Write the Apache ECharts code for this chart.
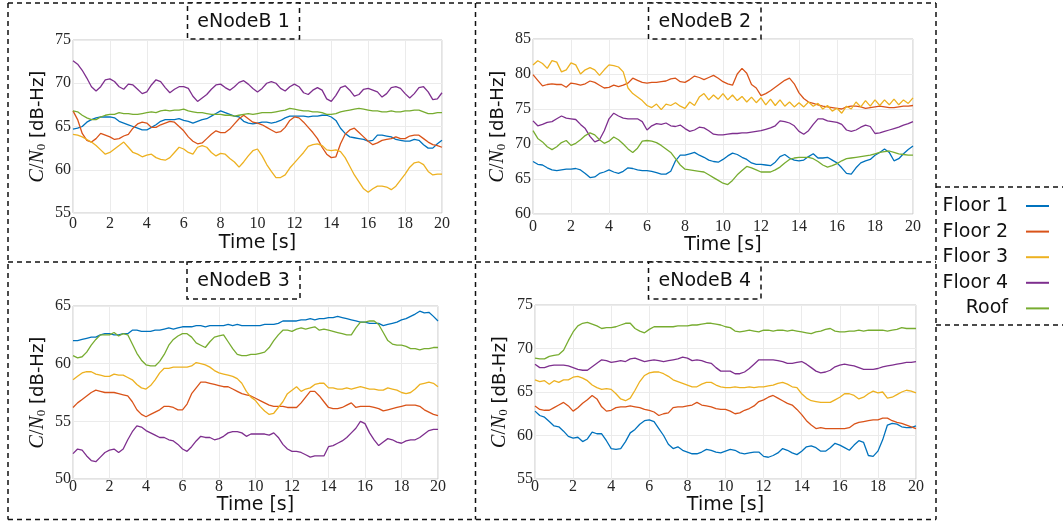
<!DOCTYPE html>
<html><head><meta charset="utf-8">
<script src="https://cdn.jsdelivr.net/npm/echarts@6/dist/echarts.min.js"></script>
<style>html,body{margin:0;padding:0;background:#fff}#c{width:1063px;height:522px}</style>
</head><body><div id="c"></div><script>
// ---------- data ----------
const TIME = [0,0.25,0.5,0.75,1,1.25,1.5,1.75,2,2.25,2.5,2.75,3,3.25,3.5,3.75,4,4.25,4.5,4.75,5,5.25,5.5,5.75,6,6.25,6.5,6.75,7,7.25,7.5,7.75,8,8.25,8.5,8.75,9,9.25,9.5,9.75,10,10.25,10.5,10.75,11,11.25,11.5,11.75,12,12.25,12.5,12.75,13,13.25,13.5,13.75,14,14.25,14.5,14.75,15,15.25,15.5,15.75,16,16.25,16.5,16.75,17,17.25,17.5,17.75,18,18.25,18.5,18.75,19,19.25,19.5,19.75,20];
const SERIES_NAMES = ['Floor 1','Floor 2','Floor 3','Floor 4','Roof'];
const PANEL_TITLES = ['eNodeB 1','eNodeB 2','eNodeB 3','eNodeB 4'];
const X_TICKS = [0,2,4,6,8,10,12,14,16,18,20];
const Y_RANGES = [[55,75],[60,85],[50,65],[55,75]];

// eNodeB 1
const ENB1_FLOOR1 = [64.7,64.8,65.0,65.5, 65.8,66.0,66.1,66.1, 66.1,66.0,65.6,65.4, 65.2,65.0,64.8,64.6, 64.6,64.9,65.2,65.6, 65.8,65.8,65.8,65.9, 65.7,65.6,65.4,65.6, 65.8,65.9,66.2,66.5, 66.8,66.6,66.4,66.2, 66.1,65.6,65.4,65.3, 65.4,65.5,65.5,65.4, 65.5,65.7,66.0,66.2, 66.2,66.2,66.2,66.1, 66.2,66.2,66.3,66.3, 66.1,65.7,64.8,64.2, 63.8,63.7,63.6,63.5, 63.3,63.4,64.0,64.0, 63.9,63.8,63.5,63.4, 63.3,63.3,63.5,63.4, 62.9,62.5,62.5,63.0, 63.4];
const ENB1_FLOOR2 = [66.8,65.8,64.2,63.4, 63.2,63.6,64.2,64.0, 63.8,63.5,63.6,63.9, 64.1,64.8,65.3,65.5, 65.4,64.9,64.9,65.2, 65.4,65.6,65.5,65.0, 64.5,63.8,63.3,63.0, 63.1,63.6,64.1,64.5, 64.3,64.3,64.7,65.3, 65.9,66.3,65.9,65.5, 65.4,65.2,64.9,64.6, 64.3,64.4,64.9,65.7, 66.1,66.0,65.5,64.9, 64.3,63.6,62.6,61.8, 61.4,61.5,63.0,64.1, 64.6,64.8,64.3,63.8, 63.3,62.9,63.1,63.4, 63.5,63.6,63.8,63.6, 63.6,63.9,64.0,64.0, 63.6,63.2,62.9,62.8, 62.6];
const ENB1_FLOOR3 = [64.1,64.0,63.8,63.5, 63.2,62.8,62.3,61.8, 62.0,62.4,62.8,63.2, 62.6,62.0,61.8,61.5, 61.7,61.8,61.4,61.2, 61.1,61.4,62.0,62.6, 62.4,62.0,61.8,62.6, 62.8,62.6,62.0,61.6, 61.9,61.8,61.3,60.9, 60.3,60.9,61.6,62.2, 62.4,61.6,60.6,59.8, 59.1,59.1,59.4,60.2, 60.8,61.4,62.0,62.7, 62.9,63.0,62.8,62.3, 62.2,62.3,62.1,61.4, 60.4,59.4,58.6,57.8, 57.4,57.8,58.1,58.1, 58.0,57.7,58.1,58.8, 59.5,60.3,60.8,60.9, 60.6,59.8,59.4,59.5, 59.5];
const ENB1_FLOOR4 = [72.6,72.2,71.5,70.6, 69.6,69.1,69.6,70.4, 70.5,70.2,69.6,69.3, 69.9,69.8,69.3,68.8, 69.0,69.8,70.4,70.2, 69.5,68.9,69.3,69.6, 69.6,69.4,68.5,67.9, 68.3,68.7,69.3,69.8, 69.9,69.5,69.2,69.6, 70.1,70.3,69.9,69.4, 69.0,69.4,70.0,70.2, 70.0,69.4,69.1,69.6, 69.9,69.6,68.9,68.7, 69.2,69.5,69.2,68.2, 67.9,68.6,69.5,69.7, 69.2,68.5,68.7,69.3, 69.4,69.2,69.0,68.4, 68.8,69.5,69.6,69.4, 68.8,68.3,68.8,69.5, 69.6,69.0,68.1,68.2, 68.9];
const ENB1_ROOF = [66.8,66.7,66.3,66.0, 65.8,65.8,66.1,66.3, 66.4,66.4,66.6,66.5, 66.5,66.4,66.4,66.5, 66.6,66.7,66.6,66.8, 66.9,66.8,66.9,66.9, 67.0,66.8,66.7,66.6, 66.6,66.5,66.4,66.4, 66.4,66.3,66.3,66.2, 66.3,66.4,66.5,66.4, 66.5,66.6,66.6,66.6, 66.7,66.8,66.9,67.1, 67.0,66.9,66.8,66.8, 66.7,66.7,66.6,66.4, 66.4,66.5,66.7,66.8, 66.9,67.0,67.1,67.0, 66.9,66.8,66.8,66.7, 66.7,66.8,66.7,66.7, 66.8,66.8,66.9,66.9, 66.7,66.5,66.5,66.6, 66.6];

// eNodeB 2
const ENB2_FLOOR1 = [67.5,67.1,67.0,66.6, 66.3,66.2,66.3,66.4, 66.4,66.5,66.3,65.8, 65.2,65.3,65.8,66.0, 66.3,66.0,65.8,66.1, 66.6,66.5,66.3,66.2, 66.2,66.1,65.9,65.7, 65.7,66.1,67.6,68.4, 68.4,68.6,68.8,68.4, 68.1,67.7,67.5,67.4, 67.8,68.3,68.7,68.5, 68.1,67.8,67.3,67.1, 67.1,67.0,66.9,67.4, 68.2,68.5,68.0,67.7, 67.6,67.7,68.2,68.6, 68.0,68.0,68.1,67.7, 67.3,66.6,65.8,65.7, 66.6,67.3,67.6,67.8, 68.4,68.8,69.3,68.8, 67.6,67.9,68.6,69.2, 69.7];
const ENB2_FLOOR2 = [79.9,79.1,78.3,78.5, 78.6,78.5,78.5,78.1, 78.7,78.6,78.4,78.6, 79.0,78.8,78.4,78.0, 78.1,78.4,78.2,78.4, 78.7,79.4,79.1,78.8, 78.7,78.8,78.8,78.9, 79.0,79.3,79.4,78.9, 78.8,79.2,79.7,79.5, 79.2,79.5,79.8,79.4, 78.9,78.6,78.4,80.0, 80.8,80.1,78.5,78.0, 76.9,77.2,77.6,78.1, 78.6,79.1,79.4,78.6, 77.3,76.5,76.0,75.8, 75.6,75.4,75.3,75.2, 75.1,75.0,75.3,75.4, 75.4,75.3,75.1,75.2, 75.3,75.4,75.3,75.2, 75.2,75.3,75.4,75.4, 75.5];
const ENB2_FLOOR3 = [81.3,81.9,81.5,80.8, 81.9,81.7,80.3,80.6, 81.6,81.3,80.0,80.6, 80.9,80.6,79.8,80.6, 81.3,81.2,81.0,80.3, 78.0,77.2,76.7,76.2, 75.5,75.2,75.7,74.9, 75.7,75.5,75.9,75.4, 75.1,76.0,75.5,76.7, 77.2,76.3,77.0,76.4, 77.2,76.3,77.0,76.2, 76.8,76.0,76.7,75.9, 76.6,75.6,76.4,75.5, 76.3,75.4,76.0,75.3, 75.9,75.3,76.0,75.4, 75.8,75.0,75.5,74.7, 75.1,74.4,75.4,75.0, 76.0,75.3,76.2,75.4, 76.3,75.5,76.3,75.6, 76.4,75.6,76.3,75.8, 76.6];
const ENB2_FLOOR4 = [73.3,72.6,72.8,73.1, 73.2,73.6,74.0,73.7, 73.6,73.5,72.8,72.2, 71.1,70.3,70.6,71.9, 73.6,74.4,74.0,73.7, 73.6,73.6,73.6,73.2, 72.0,72.6,72.9,72.8, 73.0,72.6,72.5,72.7, 72.2,71.8,72.0,72.4, 72.3,71.9,71.4,71.3, 71.3,71.4,71.5,71.5, 71.6,71.6,71.7,71.8, 71.9,72.1,72.3,72.6, 73.3,73.2,73.0,72.6, 71.8,71.4,71.9,72.8, 73.6,73.6,73.3,73.2, 73.1,72.8,72.0,71.8, 72.0,72.4,72.7,72.5, 71.5,71.6,71.8,72.0, 72.2,72.4,72.7,72.9, 73.2];
const ENB2_ROOF = [71.9,70.8,70.3,69.6, 69.2,69.6,70.2,70.5, 69.8,70.1,70.6,71.2, 71.6,71.3,70.6,70.1, 70.4,71.0,70.6,70.0, 69.3,68.8,69.4,70.4, 70.5,70.4,70.2,69.8, 69.3,68.8,67.9,67.0, 66.4,66.3,66.2,66.1, 66.0,65.6,65.2,64.8, 64.4,64.2,64.8,65.6, 66.2,66.8,66.6,66.3, 66.0,66.0,66.0,66.3, 66.7,67.3,67.8,68.0, 68.1,68.1,68.1,67.9, 67.5,67.0,66.7,66.9, 67.2,67.6,67.9,68.0, 68.1,68.2,68.3,68.4, 68.6,68.8,68.9,69.0, 68.8,68.6,68.5,68.4, 68.4];

// eNodeB 3
const ENB3_FLOOR1 = [62.0,62.0,62.1,62.2, 62.3,62.3,62.5,62.6, 62.6,62.5,62.5,62.6, 62.6,62.9,62.9,62.8, 62.8,62.8,62.9,62.9, 63.0,63.1,63.0,63.1, 63.2,63.2,63.2,63.3, 63.3,63.2,63.3,63.3, 63.3,63.3,63.4,63.3, 63.4,63.3,63.3,63.3, 63.3,63.3,63.4,63.4, 63.4,63.5,63.7,63.7, 63.7,63.7,63.8,63.8, 63.9,63.8,63.9,63.9, 64.0,64.0,64.1,64.0, 63.9,63.8,63.7,63.6, 63.6,63.5,63.5,63.5, 63.3,63.4,63.5,63.6, 63.8,63.9,64.1,64.3, 64.55,64.4,64.45,64.1, 63.7];
const ENB3_FLOOR2 = [56.2,56.6,56.9,57.2, 57.5,57.7,57.6,57.5, 57.5,57.5,57.4,57.3, 57.2,56.7,56.0,55.6, 55.4,55.6,55.8,56.0, 56.3,56.3,56.2,56.0, 56.0,56.5,57.4,57.9, 58.4,58.4,58.3,58.2, 58.1,58.0,58.0,57.8, 57.6,57.4,57.3,57.2, 57.0,56.8,56.6,56.4, 56.3,56.3,56.3,56.2, 56.2,56.2,56.6,57.1, 57.6,57.6,57.2,56.7, 56.2,56.1,56.1,56.2, 56.4,56.6,56.2,56.3, 56.3,56.3,56.2,56.1, 55.9,56.0,56.1,56.2, 56.3,56.4,56.4,56.4, 56.3,56.0,55.8,55.6, 55.5];
const ENB3_FLOOR3 = [58.6,58.9,59.2,59.3, 59.3,59.1,59.0,58.9, 58.9,59.1,59.0,59.0, 58.8,58.6,58.2,57.9, 57.8,58.1,58.6,59.2, 59.6,59.6,59.7,59.7, 59.7,59.7,59.8,60.1, 60.0,59.9,59.7,59.4, 59.2,59.1,59.0,58.9, 58.7,58.3,57.6,57.1, 56.8,56.3,55.9,55.6, 55.7,56.2,56.7,57.4, 57.7,58.0,57.6,57.8, 57.9,58.2,58.3,58.3, 57.9,57.9,57.8,57.8, 57.9,57.8,57.9,58.0, 57.9,57.8,57.8,57.7, 57.7,57.9,57.8,57.7, 57.5,57.4,57.5,57.8, 58.2,58.3,58.4,58.3, 58.0];
const ENB3_FLOOR4 = [52.2,52.6,52.5,52.0, 51.6,51.5,51.9,52.3, 52.5,52.6,52.3,52.6, 53.4,54.1,54.6,54.5, 54.2,54.0,53.8,53.6, 53.6,53.4,53.3,53.0, 52.6,52.4,52.8,53.3, 53.7,53.6,53.6,53.4, 53.5,53.7,54.0,54.1, 54.1,54.0,53.7,53.9, 53.9,53.9,53.9,53.8, 54.0,53.6,53.0,52.6, 52.4,52.4,52.3,52.1, 51.9,52.0,52.0,52.0, 52.8,52.9,53.1,53.3, 53.6,54.0,54.4,55.0, 54.8,54.0,53.4,52.9, 53.2,53.5,53.4,53.2, 53.1,53.3,53.4,53.4, 53.6,53.9,54.2,54.3, 54.3];
const ENB3_ROOF = [60.7,60.5,60.6,61.0, 61.6,62.1,62.5,62.5, 62.5,62.7,62.4,62.6, 62.5,61.7,60.9,60.3, 59.9,59.8,59.8,60.2, 60.8,61.6,62.1,62.4, 62.6,62.6,62.3,61.8, 61.6,61.4,61.9,62.3, 62.4,62.5,61.9,61.3, 60.8,60.7,60.7,60.8, 60.8,60.9,61.0,61.4, 62.0,62.5,62.9,62.9, 62.8,63.0,63.1,63.0, 63.1,63.2,62.9,63.0, 62.9,62.8,62.7,62.6, 62.5,62.5,63.1,63.6, 63.6,63.7,63.7,63.4, 62.7,62.0,61.7,61.6, 61.6,61.5,61.3,61.3, 61.2,61.3,61.3,61.4, 61.4];

// eNodeB 4
const ENB4_FLOOR1 = [62.8,62.3,62.1,61.6, 61.1,61.0,60.5,59.9, 59.7,59.8,59.3,59.6, 60.4,60.2,60.2,59.4, 58.5,58.4,58.5,59.3, 60.3,60.7,61.3,61.7, 61.8,61.6,60.8,60.0, 59.0,58.5,58.7,58.3, 58.1,57.9,57.9,58.1, 58.4,58.3,58.1,58.0, 58.2,58.4,58.3,58.0, 57.9,58.0,58.1,58.1, 57.6,57.5,57.7,58.0, 58.5,58.3,58.0,57.8, 58.2,58.7,58.8,58.6, 58.2,58.2,58.6,59.1, 58.9,58.6,58.3,58.9, 59.4,59.2,57.7,57.6, 58.2,59.5,61.2,61.4, 61.3,61.0,60.9,60.9, 61.1];
const ENB4_FLOOR2 = [63.4,63.0,62.9,62.9, 63.2,63.5,63.8,63.4, 62.8,63.2,63.7,64.1, 64.6,64.2,63.3,62.8, 62.9,63.2,63.3,63.3, 63.4,63.3,63.2,63.0, 62.9,62.7,62.3,62.5, 62.6,63.2,63.3,63.3, 63.4,63.5,63.8,63.5, 63.4,63.3,63.1,63.0, 63.0,62.8,62.5,62.6, 62.9,63.1,63.4,63.9, 64.1,64.4,64.6,64.3, 64.0,63.7,63.5,63.0, 62.4,61.7,61.2,60.8, 60.9,60.8,60.8,60.8, 60.8,60.8,60.9,61.3, 61.5,61.6,61.7,61.8, 61.8,62.0,62.0,61.7, 61.5,61.4,61.2,61.0, 60.8];
const ENB4_FLOOR3 = [66.4,66.2,66.3,65.9, 66.3,66.1,66.4,66.4, 66.7,66.8,66.6,66.3, 65.8,65.5,65.3,65.4, 65.3,64.8,64.2,64.0, 64.3,65.2,66.2,66.9, 67.2,67.3,67.3,67.1, 66.8,66.4,66.2,66.0, 65.8,65.6,65.6,65.9, 66.1,66.1,65.8,65.6, 65.5,65.5,65.6,65.5, 65.5,65.6,65.5,65.6, 65.6,65.7,65.8,66.0, 66.1,65.9,65.6,65.5, 64.8,64.3,64.0,63.9, 63.8,63.8,63.8,64.1, 64.4,64.8,64.8,64.6, 64.2,64.4,64.8,65.1, 64.9,65.0,64.3,64.4, 64.7,65.0,65.2,65.1, 64.9];
const ENB4_FLOOR4 = [68.2,67.8,67.8,68.0, 68.1,68.1,68.1,68.0, 67.8,67.6,67.5,67.5, 67.9,68.3,68.7,68.6, 68.4,68.5,68.6,68.5, 68.8,68.9,68.7,68.5, 68.6,68.7,68.6,68.5, 68.6,68.7,68.8,69.0, 68.9,68.6,68.7,68.6, 68.4,68.3,67.8,67.4, 67.4,67.4,67.1,67.1, 67.3,67.7,68.2,68.7, 68.7,68.7,68.7,68.6, 68.5,68.3,68.3,68.4, 68.5,68.2,67.8,67.4, 67.2,67.3,67.5,67.9, 68.1,68.2,68.1,68.0, 67.8,67.6,67.6,67.6, 67.7,67.9,68.0,68.1, 68.2,68.3,68.4,68.4, 68.5];
const ENB4_ROOF = [68.9,68.8,68.8,69.1, 69.2,69.3,69.8,70.9, 71.9,72.6,72.9,73.0, 72.8,72.6,72.3,72.4, 72.4,72.5,72.7,72.9, 72.9,72.3,72.0,71.8, 72.2,72.5,72.5,72.5, 72.5,72.5,72.6,72.6, 72.6,72.7,72.7,72.8, 72.9,72.9,72.8,72.7, 72.5,72.4,72.0,71.9, 72.0,72.1,72.0,71.9, 72.1,72.1,72.0,72.1, 72.1,72.0,72.1,72.0, 71.9,71.8,71.7,71.9, 72.0,72.2,72.3,72.0, 71.9,71.9,72.0,72.0, 72.1,72.0,72.1,72.1, 72.1,72.1,72.0,72.1, 72.2,72.4,72.3,72.3, 72.3];

const PANEL_DATA = [
  [ENB1_FLOOR1, ENB1_FLOOR2, ENB1_FLOOR3, ENB1_FLOOR4, ENB1_ROOF],
  [ENB2_FLOOR1, ENB2_FLOOR2, ENB2_FLOOR3, ENB2_FLOOR4, ENB2_ROOF],
  [ENB3_FLOOR1, ENB3_FLOOR2, ENB3_FLOOR3, ENB3_FLOOR4, ENB3_ROOF],
  [ENB4_FLOOR1, ENB4_FLOOR2, ENB4_FLOOR3, ENB4_FLOOR4, ENB4_ROOF]
];

// ---------- style / layout ----------
const COLORS = ['#0072BD','#D95319','#EDB120','#7E2F8E','#77AC30'];
const GRIDS = [
  {left:73, top:40, width:369, height:173},
  {left:533, top:39, width:380, height:175},
  {left:73, top:306, width:365, height:173},
  {left:535, top:305, width:381, height:174}
];
const X_LABEL_MARGIN = [3,5,0,0];
const X_NAME_GAP = [21,19,16,15];
const TITLE_BOXES = [
  {x:187.5, y:3, w:112, h:36},
  {x:648.5, y:3, w:112.5, h:36},
  {x:187, y:262, w:113, h:37},
  {x:648.5, y:262, w:112.5, h:37}
];
const SERIF = "'Liberation Serif','DejaVu Serif',serif";
const SANS = "'DejaVu Sans',sans-serif";
const DASH = [5,4];

const chart = echarts.init(document.getElementById('c'), null, {renderer:'canvas'});

const grid = GRIDS.map(g => Object.assign({show:true, borderColor:'#c6c6c6', borderWidth:1, backgroundColor:'#fff'}, g));
const xAxis = GRIDS.map((g,i) => ({
  type:'value', gridIndex:i, min:0, max:20, interval:2,
  name:'Time [s]', nameLocation:'middle', nameGap:X_NAME_GAP[i],
  nameTextStyle:{fontFamily:SANS, fontSize:19, color:'#111'},
  axisLine:{show:false}, axisTick:{show:false},
  axisLabel:{fontFamily:SERIF, fontSize:16, color:'#262626', margin:X_LABEL_MARGIN[i],
    formatter: v => X_TICKS.indexOf(v) >= 0 ? String(v) : ''},
  splitLine:{show:true, lineStyle:{color:'#ebebeb', width:1}}
}));
const yAxis = GRIDS.map((g,i) => ({
  type:'value', gridIndex:i, min:Y_RANGES[i][0], max:Y_RANGES[i][1], interval:5,
  name:'{m|C}{r|/}{m|N}{s|0}{t| [dB-Hz]}', nameLocation:'middle', nameRotate:90, nameGap:25,
  nameTextStyle:{color:'#111', rich:{
    m:{fontFamily:SERIF, fontStyle:'italic', fontSize:20, color:'#111'},
    r:{fontFamily:SERIF, fontSize:20, color:'#111'},
    s:{fontFamily:SERIF, fontSize:13, color:'#111', verticalAlign:'bottom'},
    t:{fontFamily:SANS, fontSize:18, color:'#111'}
  }},
  axisLine:{show:false}, axisTick:{show:false},
  axisLabel:{fontFamily:SERIF, fontSize:16, color:'#262626', margin:2},
  splitLine:{show:true, lineStyle:{color:'#ebebeb', width:1}}
}));

const series = [];
PANEL_DATA.forEach((panel, p) => {
  panel.forEach((vals, k) => {
    series.push({
      type:'line', name:SERIES_NAMES[k], xAxisIndex:p, yAxisIndex:p,
      data: TIME.map((t, i) => [t, vals[i]]),
      showSymbol:false, symbol:'none', silent:true, animation:false,
      lineStyle:{color:COLORS[k], width:1.3}, itemStyle:{color:COLORS[k]}
    });
  });
});

// frames, titles, legend
const graphic = [];
function dline(x1,y1,x2,y2){
  graphic.push({type:'line', silent:true, z:50, shape:{x1,y1,x2,y2},
    style:{stroke:'#111', lineWidth:1.5, lineDash:DASH}});
}
dline(8,3,936,3);
dline(8,262,936,262);
dline(8,519.5,936,519.5);
dline(8,3,8,519.5);
dline(475.5,3,475.5,519.5);
dline(936,3,936,519.5);
dline(936,187,1063,187);
dline(936,325,1063,325);

TITLE_BOXES.forEach((b, i) => {
  graphic.push({type:'rect', silent:true, z:60, shape:{x:b.x, y:b.y, width:b.w, height:b.h},
    style:{fill:'#fff', stroke:'#111', lineWidth:1.5, lineDash:DASH}});
  graphic.push({type:'text', silent:true, z:61, x:b.x + b.w/2, y:b.y + b.h/2 + 1,
    style:{text:PANEL_TITLES[i], fontFamily:SANS, fontSize:19, fill:'#111', align:'center', verticalAlign:'middle'}});
});

const LEG_Y = [206, 231.6, 257.2, 282.8, 308.4];
SERIES_NAMES.forEach((n, k) => {
  graphic.push({type:'text', silent:true, z:61, x:1008, y:LEG_Y[k],
    style:{text:n, fontFamily:SANS, fontSize:19, fill:'#111', align:'right', verticalAlign:'middle'}});
  graphic.push({type:'line', silent:true, z:61, shape:{x1:1026, y1:LEG_Y[k], x2:1049, y2:LEG_Y[k]},
    style:{stroke:COLORS[k], lineWidth:2}});
});

chart.setOption({
  backgroundColor:'#fff',
  animation:false,
  grid, xAxis, yAxis, series, graphic
});
</script></body></html>
